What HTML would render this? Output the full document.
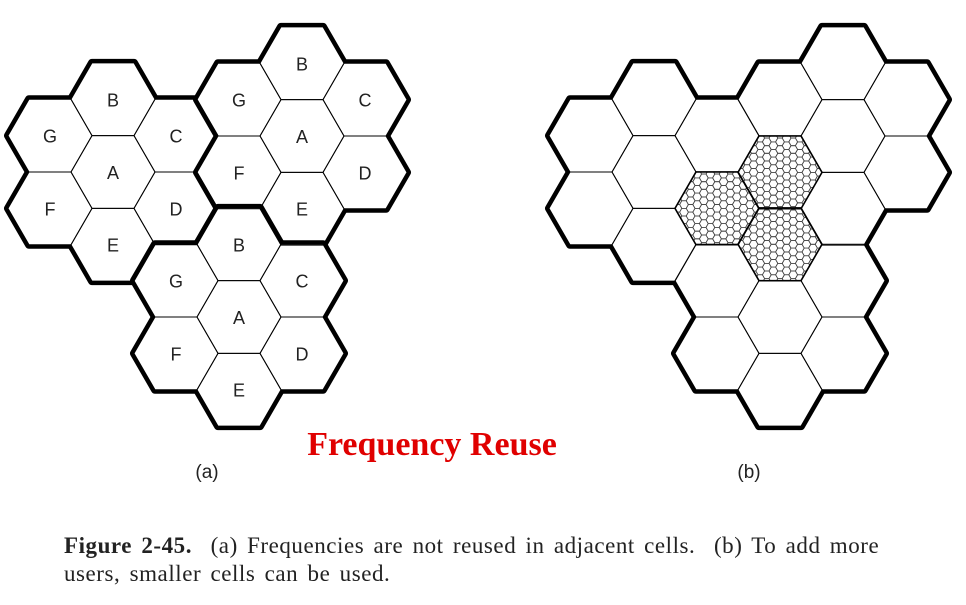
<!DOCTYPE html>
<html><head><meta charset="utf-8"><style>
body{margin:0;background:#fff;width:966px;height:605px;overflow:hidden;position:relative}
svg{position:absolute;left:0;top:0}
.cap{position:absolute;left:64px;font-family:"Liberation Serif",serif;font-size:23px;letter-spacing:0.55px;word-spacing:3px;color:#222;white-space:nowrap}
</style></head><body>
<svg id="s" width="966" height="605" xmlns="http://www.w3.org/2000/svg">
<defs id="d"></defs>
<g id="g"></g>
<text x="207" y="478" font-family="Liberation Sans,sans-serif" font-size="19" text-anchor="middle" fill="#222">(a)</text>
<text x="749" y="478" font-family="Liberation Sans,sans-serif" font-size="19" text-anchor="middle" fill="#222">(b)</text>
<text x="432" y="455" font-family="Liberation Serif,serif" font-size="34" font-weight="bold" text-anchor="middle" fill="#e00000">Frequency Reuse</text>
</svg>
<div class="cap" style="top:533px"><b>Figure 2-45.</b>&nbsp; (a) Frequencies are not reused in adjacent cells.&nbsp; (b) To add more</div>
<div class="cap" style="top:561px">users, smaller cells can be used.</div>
<script>
var NS="http://www.w3.org/2000/svg",g=document.getElementById('g');
var R=42,DX=63,DY=72.7;
function hp(cx,cy,r){var p=[];for(var i=0;i<6;i++){var a=Math.PI/3*i;p.push((cx+r*Math.cos(a)).toFixed(2)+","+(cy+r*Math.sin(a)).toFixed(2));}return p.join(" ");}
function el(t,at,par){var e=document.createElementNS(NS,t);for(var k in at)e.setAttribute(k,at[k]);(par||g).appendChild(e);return e;}
var offs=[["A",0,0],["B",0,-DY],["E",0,DY],["G",-DX,-DY/2],["F",-DX,DY/2],["C",DX,-DY/2],["D",DX,DY/2]];
var As=[[113,172],[302,136],[239,317]];
function drawSet(cells,thickPerGroup){
  cells.forEach(function(grp){
    grp.forEach(function(c){el('polygon',{points:hp(c[0],c[1],R),fill:'#000',stroke:'#000','stroke-width':8,'stroke-linejoin':'round'});});
    if(thickPerGroup) grp.forEach(function(c){el('polygon',{points:hp(c[0],c[1],R),fill:'#fff'});});
  });
  if(!thickPerGroup) cells.forEach(function(grp){grp.forEach(function(c){el('polygon',{points:hp(c[0],c[1],R),fill:'#fff'});});});
}
var ga=As.map(function(a){return offs.map(function(o){return [a[0]+o[1],a[1]+o[2],o[0]];});});
drawSet(ga,true);
ga.forEach(function(grp){grp.forEach(function(c){el('polygon',{points:hp(c[0],c[1],R),fill:'none',stroke:'#000','stroke-width':1});
 var t=el('text',{x:c[0],y:c[1]+7,'font-family':'Liberation Sans,sans-serif','font-size':18,'text-anchor':'middle',fill:'#222'});t.textContent=c[2];});});
var SH=541;
var gb=As.map(function(a){return offs.map(function(o){return [a[0]+o[1]+SH,a[1]+o[2]];});});
drawSet(gb,false);
gb.forEach(function(grp){grp.forEach(function(c){el('polygon',{points:hp(c[0],c[1],R),fill:'none',stroke:'#000','stroke-width':1});});});
var small=[[113+DX+SH,172+DY/2],[302-DX+SH,136+DY/2],[239+SH,317-DY]];
var defs=document.getElementById('d');
small.forEach(function(c,i){
  var cp=el('clipPath',{id:'c'+i},defs);el('polygon',{points:hp(c[0],c[1],R)},cp);
  var sg=el('g',{'clip-path':'url(#c'+i+')'});
  var r=4.4,sx=1.5*r,sy=Math.sqrt(3)*r;
  for(var ci=-11;ci<=11;ci++)for(var ri=-8;ri<=8;ri++){
    var x=c[0]+ci*sx,y=c[1]+ri*sy+((ci&1)?sy/2:0);
    el('polygon',{points:hp(x,y,r),fill:'none',stroke:'#444','stroke-width':0.8},sg);
  }
  el('polygon',{points:hp(c[0],c[1],R),fill:'none',stroke:'#000','stroke-width':1.6});
});
</script>
</body></html>
